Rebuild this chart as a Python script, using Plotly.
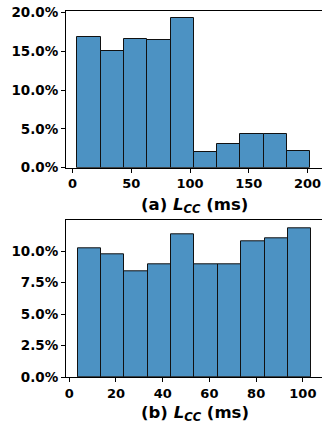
import plotly.graph_objects as go
from plotly.subplots import make_subplots

# Panel (a): histogram bin edges (ms) and share (%)
edges_a = [4.2, 24.0, 43.8, 63.6, 83.4, 103.2, 123.0, 142.8, 162.6, 182.4, 202.2]
share_a = [16.9, 15.0, 16.6, 16.5, 19.3, 2.0, 3.05, 4.35, 4.35, 2.2]
xticks_a = [0, 50, 100, 150, 200]
yticks_a = [0, 5, 10, 15, 20]
ylabels_a = ["0.0%", "5.0%", "10.0%", "15.0%", "20.0%"]

# Panel (b)
edges_b = [3.6, 13.6, 23.6, 33.6, 43.6, 53.6, 63.6, 73.6, 83.6, 93.6, 103.6]
share_b = [10.24, 9.76, 8.41, 8.94, 11.3, 8.94, 8.94, 10.77, 11.03, 11.83]
xticks_b = [0, 20, 40, 60, 80, 100]
yticks_b = [0, 2.5, 5, 7.5, 10]
ylabels_b = ["0.0%", "2.5%", "5.0%", "7.5%", "10.0%"]

W, H = 322, 425
fig = make_subplots(rows=2, cols=1)

def add_hist(edges, vals, row):
    centers = [(edges[i] + edges[i + 1]) / 2 for i in range(len(vals))]
    widths = [edges[i + 1] - edges[i] for i in range(len(vals))]
    fig.add_trace(go.Bar(x=centers, y=vals, width=widths,
                         marker=dict(color="#4c92c3", line=dict(color="#111111", width=1)),
                         showlegend=False), row=row, col=1)

add_hist(edges_a, share_a, 1)
add_hist(edges_b, share_b, 2)

ytickfont = dict(family="DejaVu Sans", size=13.5, color="black", weight="bold")
xtickfont = dict(family="DejaVu Sans", size=13, color="black", weight="bold")
xdom = [66 / W, 1.0]
axis_common = dict(showgrid=False, zeroline=False, showline=True, linecolor="black", linewidth=1,
                   ticks="outside", ticklen=4, tickcolor="black", tickwidth=1, automargin=False)

fig.update_layout(
    width=W, height=H, margin=dict(l=0, r=0, t=0, b=0),
    paper_bgcolor="white", plot_bgcolor="white", bargap=0,
    xaxis=dict(domain=xdom, range=[-5.53, 212.3], tickvals=xticks_a, mirror=True,
               tickfont=xtickfont, **axis_common),
    yaxis=dict(domain=[1 - 167.7 / H, 1 - 11 / H], range=[0, 20.2], tickvals=yticks_a,
               ticktext=ylabels_a, tickfont=ytickfont, **axis_common),
    xaxis2=dict(domain=xdom, range=[-1.4, 108.2], tickvals=xticks_b, mirror=True,
                tickfont=xtickfont, **axis_common),
    yaxis2=dict(domain=[1 - 377 / H, 1 - 220.3 / H], range=[0, 12.44], tickvals=yticks_b,
                ticktext=ylabels_b, tickfont=ytickfont, **axis_common),
)

labfont = dict(family="DejaVu Sans", size=16.5, color="black")
for txt, ypx in [("(a)", 205), ("(b)", 413)]:
    fig.add_annotation(text=f"<b>{txt} <i>L</i><sub><i>CC</i></sub> (ms)</b>",
                       xref="paper", yref="paper", x=(66 + 323) / 2 / W, y=1 - ypx / H,
                       xanchor="center", yanchor="middle", showarrow=False, font=labfont)

fig.write_html("out.html", config={"displayModeBar": False},
               post_script="document.body.style.margin='0';document.body.style.overflow='hidden';")
